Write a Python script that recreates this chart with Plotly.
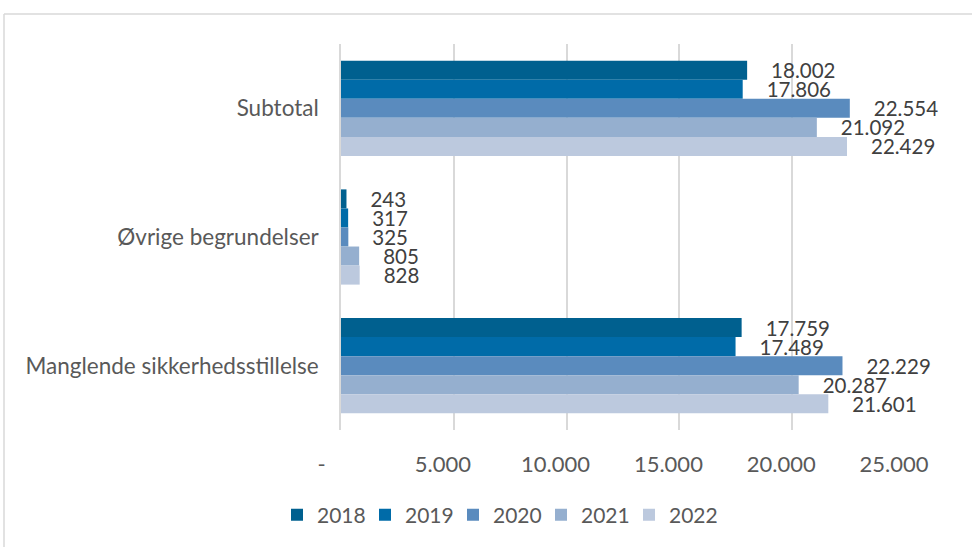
import plotly.graph_objects as go

categories = ["Subtotal", "Øvrige begrundelser", "Manglende sikkerhedsstillelse"]
years = ["2018", "2019", "2020", "2021", "2022"]
values = {
    "2018": [18002, 243, 17759],
    "2019": [17806, 317, 17489],
    "2020": [22554, 325, 22229],
    "2021": [21092, 805, 20287],
    "2022": [22429, 828, 21601],
}
colors = ["#00608F", "#006BA8", "#5A8BBE", "#95AFCF", "#BCC9DE"]
tick_vals = [0, 5000, 10000, 15000, 20000, 25000]
tick_text = ["-\u00a0\u00a0\u00a0", "5.000", "10.000", "15.000", "20.000", "25.000"]

FONT = "Lato"
NB = "\u00a0"
fig = go.Figure()
for yr, c in zip(years, colors):
    fig.add_trace(go.Bar(
        y=categories, x=values[yr], name=yr, orientation="h",
        marker=dict(color=c, line=dict(width=0)),
        texttemplate=NB * 4 + "%{x:,}", textposition="outside",
        constraintext="none",
        textfont=dict(size=20.5, color="#404040", family=FONT),
        cliponaxis=False,
    ))

W, H = 972, 547
L, R, T, B = 341, 67, 44, 117
pw, ph = W - L - R, H - T - B

fig.update_layout(
    width=W, height=H,
    margin=dict(l=L, r=R, t=T, b=B, autoexpand=False),
    barmode="group", bargap=0.26, bargroupgap=0,
    separators=",.",
    plot_bgcolor="white", paper_bgcolor="white",
    font=dict(family=FONT, color="#595959", size=21),
    xaxis=dict(range=[0, 25000], tickvals=tick_vals, ticktext=tick_text,
               showgrid=True, gridcolor="#D9D9D9", gridwidth=1.5,
               zeroline=False, showline=False, ticks="",
               ticklabelstandoff=19, ticklabelshift=-11, automargin=False,
               tickfont=dict(size=22, color="#595959")),
    yaxis=dict(categoryorder="array", categoryarray=categories,
               autorange="reversed", showgrid=False, ticks="",
               showline=True, linecolor="#D9D9D9", linewidth=1.5,
               ticklabelstandoff=16, automargin=False,
               tickfont=dict(size=22.5, color="#595959")),
    legend=dict(orientation="h", x=(277 - L) / pw, xanchor="left",
                y=(H - B - 515) / ph, yanchor="middle",
                font=dict(size=21, color="#595959"), itemwidth=30,
                entrywidth=43, entrywidthmode="pixels",
                traceorder="normal"),
    showlegend=True,
    shapes=[
        dict(type="line", xref="paper", yref="paper",
             x0=(4 - L) / pw, x1=(4 - L) / pw,
             y0=(H - B - 14) / ph, y1=(H - B - 560) / ph,
             line=dict(color="#D9D9D9", width=1.5)),
        dict(type="line", xref="paper", yref="paper",
             x0=(4 - L) / pw, x1=(980 - L) / pw,
             y0=(H - B - 14) / ph, y1=(H - B - 14) / ph,
             line=dict(color="#D9D9D9", width=1.5)),
    ],
)
fig.write_html(
    "out.html",
    config={"displayModeBar": False},
    post_script="document.body.style.margin='0';document.body.style.overflow='hidden';window.dispatchEvent(new Event('resize'));",
)
